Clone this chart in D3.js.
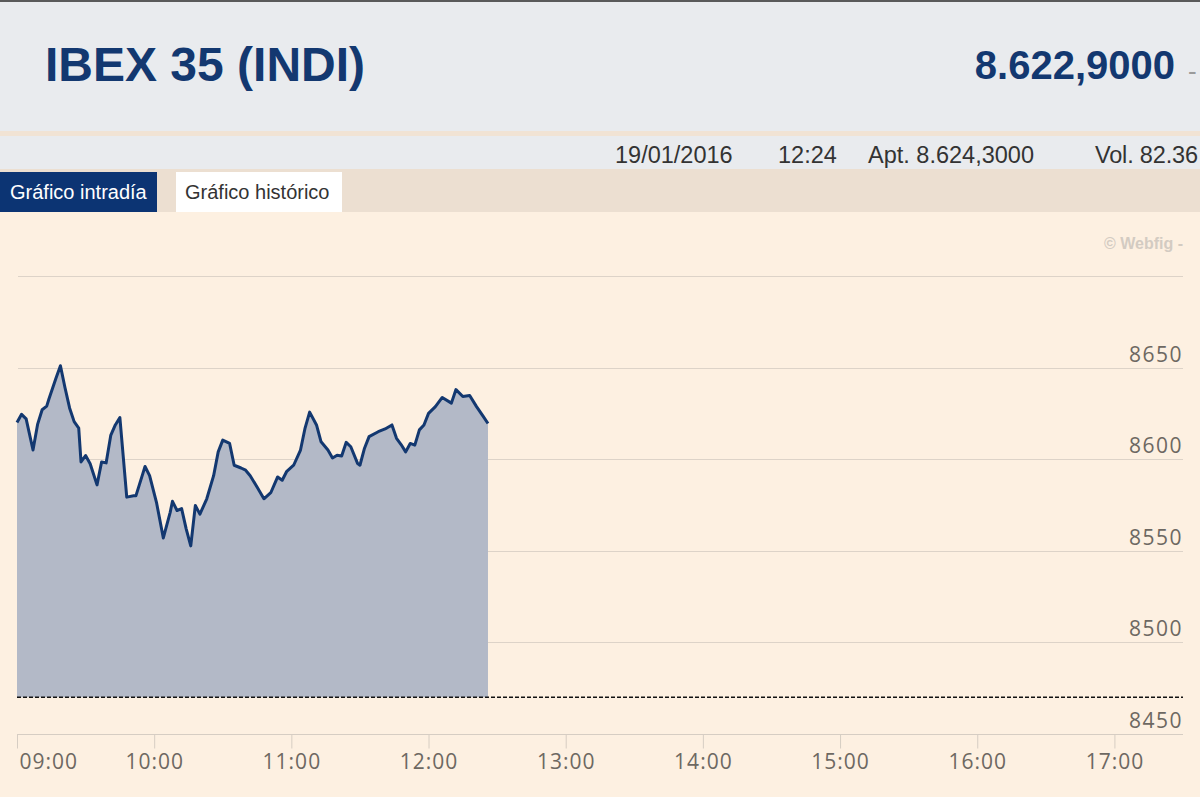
<!DOCTYPE html>
<html>
<head>
<meta charset="utf-8">
<script src="https://cdn.jsdelivr.net/npm/d3@7"></script>
<style>
    html, body { margin: 0; padding: 0; background: #fdf0e1; }
    svg { display: block; }
</style>
</head>
<body>
<div id="chart"></div>
<script>
// Intraday quotes, IBEX 35, 19/01/2016
var times = ["09:00","09:02","09:04","09:07","09:09","09:11","09:13","09:14","09:17","09:19",
    "09:21","09:23","09:25","09:27","09:28","09:30","09:32","09:35","09:37","09:39",
    "09:41","09:43","09:45","09:48","09:51","09:52","09:55","09:56","09:58","10:01",
    "10:04","10:07","10:08","10:10","10:12","10:14","10:16","10:18","10:20","10:23",
    "10:26","10:28","10:30","10:33","10:35","10:38","10:40","10:42","10:45","10:48",
    "10:51","10:54","10:56","10:58","11:01","11:04","11:06","11:08","11:11","11:13",
    "11:16","11:18","11:20","11:22","11:24","11:26","11:29","11:30","11:32","11:34",
    "11:38","11:41","11:44","11:46","11:48","11:50","11:52","11:54","11:56","11:58",
    "12:00","12:03","12:06","12:10","12:12","12:15","12:18","12:21","12:24","12:26"];
var values = [8620, 8624.5, 8622, 8605, 8619, 8627, 8629, 8633, 8644, 8651,
    8639, 8628, 8620.5, 8617, 8598.5, 8602, 8597.5, 8586, 8598.5, 8598,
    8613, 8618.7, 8622.7, 8579.3, 8580, 8580, 8592, 8596, 8591, 8576.5,
    8557, 8571, 8577, 8572, 8573, 8562, 8552.7, 8574.7, 8570, 8578.4,
    8591, 8604, 8610.4, 8608.6, 8596.7, 8595.2, 8594, 8591, 8584.8, 8578.4,
    8581.7, 8590.3, 8588.5, 8593.4, 8596.7, 8605, 8617, 8625.7, 8618.7, 8609.5,
    8605, 8600.7, 8602.2, 8601.8, 8609.2, 8606.8, 8597.6, 8596.7, 8606, 8612.3,
    8615, 8616.5, 8618.7, 8611.4, 8608, 8604, 8608.6, 8607.7, 8616, 8618.7,
    8625, 8628.7, 8633.7, 8630.6, 8638, 8634.2, 8634.8, 8628.7, 8623.2, 8619.5];
var previousClose = 8470;

var hourTicks = ["09:00","10:00","11:00","12:00","13:00","14:00","15:00","16:00","17:00"];
var sessionRange = ["09:00", "17:30"];
var gridValues = [8500, 8550, 8600, 8650, 8700];
var labelValues = [8450, 8500, 8550, 8600, 8650];
var yDomain = [8450, 8700];

var header = {
    title: "IBEX 35 (INDI)",
    last: "8.622,9000",
    date: "19/01/2016",
    time: "12:24",
    open: "Apt. 8.624,3000",
    volume: "Vol. 82.36"
};

var width = 1200, height = 797;
var navy = "#133870";

var parseTime = d3.timeParse("%Y-%m-%d %H:%M");
function toDate(t) { return parseTime("2016-01-19 " + t); }

var series = times.map(function(t, i) { return {date: toDate(t), value: values[i]}; });

var svg = d3.select("#chart").append("svg")
    .attr("width", width)
    .attr("height", height)
    .style("font-family", "'Liberation Sans', Arial, sans-serif");

// Page background blocks
svg.append("rect").attr("x", 0).attr("y", 0).attr("width", width).attr("height", height).attr("fill", "#fdf0e1");
svg.append("rect").attr("x", 0).attr("y", 0).attr("width", width).attr("height", 172).attr("fill", "#e9ebee");
svg.append("rect").attr("x", 0).attr("y", 0).attr("width", width).attr("height", 2).attr("fill", "#5a5a5a");
svg.append("rect").attr("x", 0).attr("y", 131).attr("width", width).attr("height", 5).attr("fill", "#f1e3d4");
svg.append("rect").attr("x", 0).attr("y", 169).attr("width", width).attr("height", 43).attr("fill", "#ecdfd1");

// Header texts
svg.append("text").attr("x", 45).attr("y", 81)
    .attr("font-size", 48).attr("font-weight", "bold").attr("fill", navy)
    .text(header.title);
svg.append("text").attr("x", 1175).attr("y", 79).attr("text-anchor", "end")
    .attr("font-size", 40).attr("font-weight", "bold").attr("fill", navy)
    .text(header.last);
svg.append("text").attr("x", 1188).attr("y", 80)
    .attr("font-size", 26).attr("fill", "#9a9a9a")
    .text("-");

var info = [
    {x: 615, t: header.date},
    {x: 778, t: header.time},
    {x: 868, t: header.open},
    {x: 1095, t: header.volume}
];
svg.selectAll(".info").data(info).enter().append("text")
    .attr("class", "info")
    .attr("x", function(d) { return d.x; })
    .attr("y", 163)
    .attr("font-size", 23.5)
    .attr("fill", "#333")
    .attr("textLength", function(d, i) { return i === 3 ? 103 : null; })
    .text(function(d) { return d.t; });

// Tabs
svg.append("rect").attr("x", 0).attr("y", 172).attr("width", 157).attr("height", 40).attr("fill", "#0c3473");
svg.append("text").attr("x", 10).attr("y", 199).attr("font-size", 20).attr("fill", "#fff")
    .text("Gráfico intradía");
svg.append("rect").attr("x", 176).attr("y", 172).attr("width", 166).attr("height", 40).attr("fill", "#fff");
svg.append("text").attr("x", 185).attr("y", 199).attr("font-size", 20).attr("fill", "#333")
    .text("Gráfico histórico");

// Watermark
svg.append("text").attr("x", 1183).attr("y", 249).attr("text-anchor", "end")
    .attr("font-size", 16).attr("font-weight", "bold").attr("fill", "#d3cbc2")
    .text("© Webfig -");

// Scales
var x = d3.scaleTime()
    .domain(sessionRange.map(toDate))
    .range([17, 1183]);
var y = d3.scaleLinear()
    .domain(yDomain)
    .range([734, 276]);

// Grid lines
svg.selectAll(".grid").data(gridValues).enter().append("line")
    .attr("class", "grid")
    .attr("x1", 18).attr("x2", 1183)
    .attr("y1", function(d) { return Math.round(y(d)) + 0.5; })
    .attr("y2", function(d) { return Math.round(y(d)) + 0.5; })
    .attr("stroke", "#ddd3c8").attr("stroke-width", 1);

// Area + line
var area = d3.area()
    .x(function(d) { return x(d.date); })
    .y0(y(previousClose))
    .y1(function(d) { return y(d.value); });
var line = d3.line()
    .x(function(d) { return x(d.date); })
    .y(function(d) { return y(d.value); });

svg.append("path")
    .attr("d", area(series))
    .attr("fill", "#b3b9c7");
svg.append("path")
    .attr("d", line(series))
    .attr("fill", "none")
    .attr("stroke", navy)
    .attr("stroke-width", 3)
    .attr("stroke-linejoin", "round");

// Previous close
svg.append("line")
    .attr("x1", 17).attr("x2", 1183)
    .attr("y1", y(previousClose)).attr("y2", y(previousClose))
    .attr("stroke", "#111").attr("stroke-width", 1.5)
    .attr("stroke-dasharray", "4,2");

// X axis
var xAxis = d3.axisBottom(x)
    .tickValues(hourTicks.map(toDate))
    .tickSize(14)
    .tickFormat(d3.timeFormat("%H:%M"));
var gx = svg.append("g")
    .attr("transform", "translate(0," + (Math.round(y(yDomain[0])) + 0.5) + ")")
    .call(xAxis);
gx.select(".domain").attr("stroke", "#d6cdc3").attr("d", "M17,0H1183");
gx.selectAll(".tick line").attr("stroke", "#d6cdc3");
gx.selectAll(".tick text")
    .attr("y", 34)
    .attr("dy", null)
    .attr("fill", "#6d6862")
    .attr("font-size", 21)
    .attr("letter-spacing", 1)
    .attr("font-family", "'Open Sans', sans-serif")
    .attr("text-anchor", function(d, i) { return i === 0 ? "start" : "middle"; })
    .attr("x", function(d, i) { return i === 0 ? 2 : 0; });

// Y labels
svg.selectAll(".ylabel").data(labelValues).enter().append("text")
    .attr("class", "ylabel")
    .attr("x", 1183)
    .attr("y", function(d) { return y(d) - 6; })
    .attr("text-anchor", "end")
    .attr("fill", "#6d6862")
    .attr("font-size", 21)
    .attr("letter-spacing", 1.5)
    .attr("font-family", "'Open Sans', sans-serif")
    .text(function(d) { return d; });
</script>
</body>
</html>
